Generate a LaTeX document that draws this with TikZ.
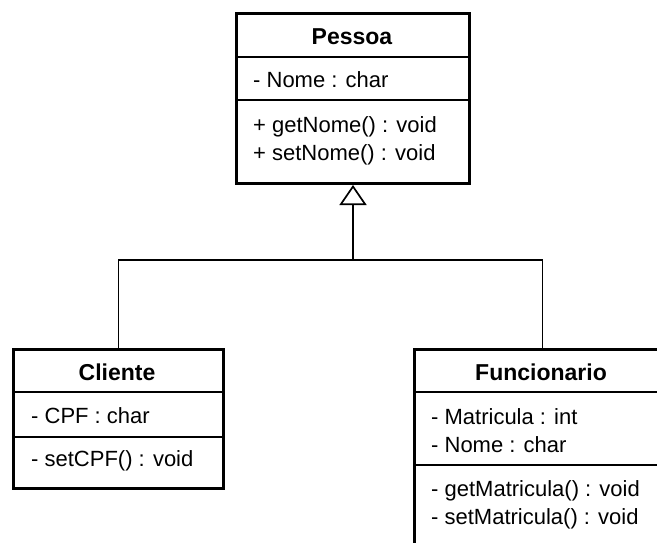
\documentclass[tikz,border=0pt]{standalone}
\usepackage{fontspec}
\setmainfont{Liberation Sans}
\usetikzlibrary{positioning, arrows.meta}
\tikzset{
    base/.style={
        font=\fontsize{22}{28}\selectfont,
        inner sep=0pt
    },
    classbox/.style={
        rectangle,
        draw=black,
        line width=3pt,
        fill=white,
        inner sep=0pt,
        anchor=north west
    },
    title/.style={
        base,
        font=\fontsize{23}{28}\selectfont\bfseries
    },
    member/.style={
        base,
        anchor=west,
        align=left
    },
    divider/.style={
        line width=1.5pt
    },
    flow/.style={
        line width=1.7pt
    },
    inherit/.style={
        flow,
        -{Triangle[open, length=20pt, width=27pt]}
    }
}

\begin{document}
\begin{tikzpicture}[x=1pt, y=-1pt]
  \useasboundingbox (0,0) rectangle (657,543);
  \clip (0,0) rectangle (657,543);

  % Pessoa
  \node[classbox, minimum width=233pt, minimum height=170pt] (pessoa) at (235,12) {};
  \draw[divider] (235,57) -- (468,57);
  \draw[divider] (235,100) -- (468,100);
  \node[title] (pessoaName) at (352,37) {Pessoa};
  \node[member] (pessoaAttr) at (253,80) {- Nome : char};
  \node[member] (pessoaOps) at (253,141) {+ getNome() : void\\+ setNome() : void};

  % Cliente
  \node[classbox, minimum width=210pt, minimum height=139pt] (cliente) at (12,348) {};
  \draw[divider] (12,392) -- (222,392);
  \draw[divider] (12,437) -- (222,437);
  \node[title] (clienteName) at (117,372) {Cliente};
  \node[member] (clienteAttr) at (31,416) {- CPF : char};
  \node[member] (clienteOps) at (31,461) {- setCPF() : void};

  % Funcionario
  \node[classbox, minimum width=256pt, minimum height=200pt] (funcionario) at (413,348) {};
  \draw[divider] (413,392) -- (669,392);
  \draw[divider] (413,465) -- (669,465);
  \node[title] (funcionarioName) at (541,372) {Funcionario};
  \node[member] (funcionarioAttr) at (431,431) {- Matricula : int\\- Nome : char};
  \node[member] (funcionarioOps) at (431,505) {- getMatricula() : void\\- setMatricula() : void};

  % Heranca
  \coordinate (split) at (pessoa.south |- 0,260);
  \draw[inherit] (split) -- (pessoa.south);
  \draw[flow] (cliente.north) |- (split) -| (funcionario.north);
\end{tikzpicture}
\end{document}
